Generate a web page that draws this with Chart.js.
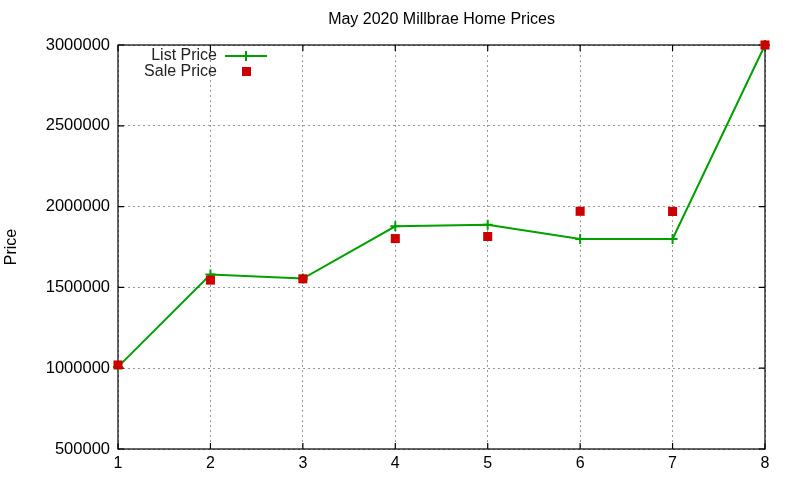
<!DOCTYPE html>
<html><head><meta charset="utf-8">
<script src="https://cdn.jsdelivr.net/npm/chart.js@4/dist/chart.umd.min.js"></script>
<style>html,body{margin:0;padding:0;background:#fff}#wrap{width:800px;height:480px}</style>
</head><body><div id="wrap"><canvas id="c" width="800" height="480"></canvas></div>
<script>
const homes = [1, 2, 3, 4, 5, 6, 7, 8];
const listPrice = [1008000, 1580000, 1555000, 1878000, 1887000, 1800000, 1800000, 3000000];
const salePrice = [1020000, 1545000, 1553000, 1802000, 1815000, 1971000, 1970000, 3000000];
const yTicks = [500000, 1000000, 1500000, 2000000, 2500000, 3000000];
const chartTitle = 'May 2020 Millbrae Home Prices';
const yTitle = 'Price';
const seriesNames = ['List Price', 'Sale Price'];

const FONT = '"Liberation Sans", Arial, sans-serif';
const GREEN = '#00a000', RED = '#cc0000';

const decor = {
  id: 'decor',
  beforeDatasetsDraw(chart) {
    const {ctx, chartArea: a, scales: {x, y}} = chart;
    ctx.save();
    ctx.strokeStyle = '#000'; ctx.lineWidth = 1.2;
    ctx.strokeRect(a.left, a.top, a.right - a.left, a.bottom - a.top);
    ctx.beginPath();
    homes.forEach(v => {
      const px = x.getPixelForValue(v);
      ctx.moveTo(px, a.bottom); ctx.lineTo(px, a.bottom - 6);
      ctx.moveTo(px, a.top); ctx.lineTo(px, a.top + 6);
    });
    yTicks.forEach(v => {
      const py = y.getPixelForValue(v);
      ctx.moveTo(a.left, py); ctx.lineTo(a.left + 6, py);
      ctx.moveTo(a.right, py); ctx.lineTo(a.right - 6, py);
    });
    ctx.stroke();
    ctx.restore();
  },
  afterDatasetsDraw(chart) {
    const {ctx, chartArea: a} = chart;
    ctx.save();
    ctx.fillStyle = '#000';
    ctx.font = '16px ' + FONT;
    ctx.textAlign = 'center'; ctx.textBaseline = 'middle';
    ctx.fillText(chartTitle, (a.left + a.right) / 2, 20);
    ctx.save();
    ctx.translate(12, (a.top + a.bottom) / 2);
    ctx.rotate(-Math.PI / 2);
    ctx.font = '16px ' + FONT;
    ctx.fillText(yTitle, 0, 0);
    ctx.restore();
    ctx.font = '16px ' + FONT;
    ctx.textAlign = 'right';
    ctx.fillStyle = '#222';
    ctx.fillText(seriesNames[0], 217, 56);
    ctx.fillText(seriesNames[1], 217, 72);
    ctx.strokeStyle = GREEN; ctx.lineWidth = 2;
    ctx.beginPath();
    ctx.moveTo(225, 56); ctx.lineTo(267, 56);
    ctx.moveTo(246, 51); ctx.lineTo(246, 61);
    ctx.stroke();
    ctx.fillStyle = RED;
    ctx.fillRect(242, 67, 9, 9);
    ctx.restore();
  }
};

new Chart(document.getElementById('c'), {
  type: 'line',
  data: {
    datasets: [
      {
        label: seriesNames[0], order: 1,
        data: homes.map((h, i) => ({x: h, y: listPrice[i]})),
        borderColor: GREEN, backgroundColor: GREEN, borderWidth: 2,
        pointStyle: 'cross', pointRadius: 5, pointBorderWidth: 2, pointBorderColor: GREEN,
        tension: 0, fill: false, clip: false
      },
      {
        label: seriesNames[1], order: 0,
        data: homes.map((h, i) => ({x: h, y: salePrice[i]})),
        showLine: false, clip: false,
        pointStyle: 'rect', pointRadius: 6.4, pointBorderWidth: 0,
        backgroundColor: RED, borderColor: RED
      }
    ]
  },
  options: {
    responsive: false, animation: false,
    layout: {padding: {top: 45, right: 35, left: 0, bottom: 0}},
    plugins: {legend: {display: false}, title: {display: false}, tooltip: {enabled: false}},
    scales: {
      x: {
        type: 'linear', min: 1, max: 8,
        afterFit(s) { s.height = 31; },
        ticks: {stepSize: 1, color: '#000', font: {family: FONT, size: 16}, padding: 5},
        grid: {color: '#999', lineWidth: 1, drawTicks: false},
        border: {display: false, dash: [2, 3]}
      },
      y: {
        min: 500000, max: 3000000,
        afterFit(s) { s.width = 118; },
        afterBuildTicks(s) { s.ticks = yTicks.map(v => ({value: v})); },
        ticks: {color: '#000', font: {family: FONT, size: 16.5}, padding: 8,
                callback: v => String(v)},
        grid: {color: '#999', lineWidth: 1, drawTicks: false},
        border: {display: false, dash: [2, 3]}
      }
    }
  },
  plugins: [decor]
});
</script></body></html>
